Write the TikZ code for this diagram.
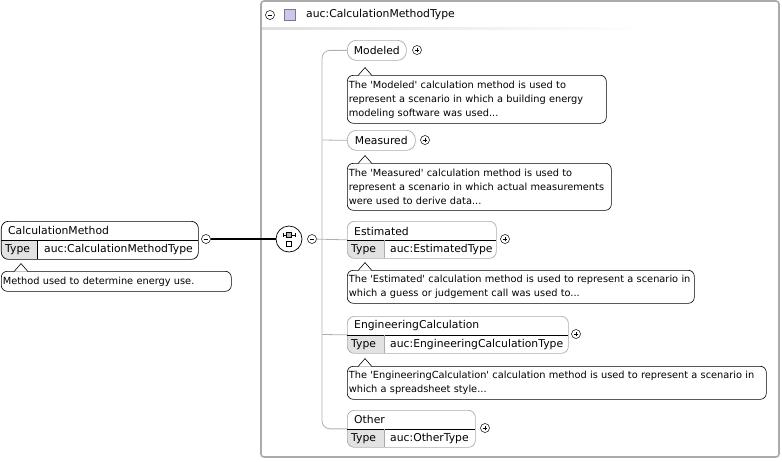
\documentclass[tikz,border=0pt]{standalone}
\usepackage{fontspec}
\setmainfont{DejaVu Sans}[Ligatures=TeXOff]
\usetikzlibrary{positioning}

\definecolor{boxgray}{HTML}{ABABAB}
\definecolor{treegray}{HTML}{AFAFAF}
\definecolor{typefill}{HTML}{E2E2E2}
\definecolor{lavender}{HTML}{CFC6EC}

\tikzset{
  minus/.style={circle, draw, fill=white, minimum size=9pt, inner sep=0pt, line width=0.5pt,
    path picture={\draw[line width=0.6pt] ([xshift=-2.3pt]path picture bounding box.center) -- ([xshift=2.3pt]path picture bounding box.center);}},
  plus/.style={minus,
    path picture={\draw[line width=0.6pt] ([xshift=-2.3pt]path picture bounding box.center) -- ([xshift=2.3pt]path picture bounding box.center)
      ([yshift=-2.3pt]path picture bounding box.center) -- ([yshift=2.3pt]path picture bounding box.center);}},
  tip/.style={draw, fill=white, line width=0.6pt}
}

\begin{document}
\begin{tikzpicture}[x=1pt,y=-1pt,
    elem/.style={draw=boxgray, rounded corners=7pt, line width=0.7pt, anchor=north west, inner sep=0pt},
    simple/.style={elem, rounded corners=9pt, minimum height=20pt, font=\fontsize{10.8}{12}\selectfont},
    doc/.style={draw, rounded corners=6pt, line width=0.6pt, anchor=north west, align=left,
      inner xsep=1.5pt, inner ysep=2pt, font=\fontsize{9.8}{14}\selectfont},
    tree/.style={draw=treegray, line width=0.8pt},
    label/.style={anchor=west, inner sep=0pt, font=\fontsize{10.8}{12}\selectfont}]
  \useasboundingbox (0,0) rectangle (782,461);

  % complex type frame
  \draw[boxgray, line width=1.6pt, rounded corners=3pt] (261,1) rectangle (779,457);
  \node[minus] (hdm) at (270,15) {};
  \node[draw=lavender!60!black, fill=lavender, minimum size=11pt, inner sep=0pt, line width=0.4pt] (hsq) at (290,15) {};
  \node[label] (htitle) at (306,15) {auc:CalculationMethodType};
  \shade[left color=gray!25, right color=white] (262,27) rectangle (650,29);

  % CalculationMethod
  \begin{scope}
    \clip[rounded corners=7pt] (1,221) rectangle (198,259);
    \fill[typefill] (1,240) rectangle (37,259);
  \end{scope}
  \node[elem, draw=black, minimum width=197pt, minimum height=38pt] (cm) at (1,221) {};
  \draw[line width=0.6pt] (1,240) -- (198,240) (37,240) -- (37,259);
  \node[label] (cmname) at (8,230) {CalculationMethod};
  \node[label] (cmtype) at (5,249.5) {Type};
  \node[label] (cmval) at (44,249.5) {auc:CalculationMethodType};
  \node[minus] (cmm) at (206,239) {};
  \node[doc, text width=227pt, minimum height=20pt] (cmdoc) at (1,271) {Method used to determine energy use.};
  \draw[tip] ([xshift=13pt,yshift=-0.6pt]cmdoc.north west) -- ++(7,-8) -- ++(7,8);

  % sequence
  \node[circle, draw, fill=white, minimum size=26pt, inner sep=0pt, line width=0.7pt] (seq) at (289,239) {};
  \draw[line width=0.6pt] (283,235) -- (295,235) (283,233) -- (283,237) (295,233) -- (295,237);
  \draw[fill=gray!60, line width=0.5pt] (286.5,232.5) rectangle (291.5,237.5);
  \draw[fill=white, line width=0.5pt] (286.5,241.5) rectangle (291.5,246.5);
  \node[minus] (seqm) at (312,239) {};
  \draw[line width=1.8pt] (cmm) -- (seq);

  % Modeled
  \node[simple, minimum width=59pt] (mod) at (347,40) {Modeled};
  \node[plus] (modp) at (417,50) {};
  \node[doc, text width=256pt, minimum height=48pt] (moddoc) at (347,75) {The 'Modeled' calculation method is used to\\represent a scenario in which a building energy\\modeling software was used...};
  \draw[tip] ([xshift=11pt,yshift=-0.6pt]moddoc.north west) -- ++(7,-8) -- ++(7,8);

  % Measured
  \node[simple, minimum width=68pt] (meas) at (347,130) {Measured};
  \node[plus] (measp) at (425,140) {};
  \node[doc, text width=261pt, minimum height=47pt] (measdoc) at (347,163) {The 'Measured' calculation method is used to\\represent a scenario in which actual measurements\\were used to derive data...};
  \draw[tip] ([xshift=11pt,yshift=-0.6pt]measdoc.north west) -- ++(7,-8) -- ++(7,8);

  % Estimated
  \begin{scope}
    \clip[rounded corners=7pt] (347,221) rectangle (496,258);
    \fill[typefill] (347,240) rectangle (384,258);
  \end{scope}
  \node[elem, minimum width=149pt, minimum height=37pt] (est) at (347,221) {};
  \draw[line width=0.6pt] (347,240) -- (496,240);
  \draw[boxgray, line width=0.6pt] (384,240) -- (384,258);
  \node[label] (estname) at (354,231) {Estimated};
  \node[label] (esttype) at (351,249.5) {Type};
  \node[label] (estval) at (390,249.5) {auc:EstimatedType};
  \node[plus] (estp) at (505,239) {};
  \node[doc, text width=344pt, minimum height=33pt] (estdoc) at (347,270) {The 'Estimated' calculation method is used to represent a scenario in\\which a guess or judgement call was used to...};
  \draw[tip] ([xshift=11pt,yshift=-0.6pt]estdoc.north west) -- ++(7,-8) -- ++(7,8);

  % EngineeringCalculation
  \begin{scope}
    \clip[rounded corners=7pt] (347,316) rectangle (568,353);
    \fill[typefill] (347,335) rectangle (384,353);
  \end{scope}
  \node[elem, minimum width=221pt, minimum height=37pt] (eng) at (347,316) {};
  \draw[line width=0.6pt] (347,335) -- (568,335);
  \draw[boxgray, line width=0.6pt] (384,335) -- (384,353);
  \node[label] (engname) at (354,325.5) {EngineeringCalculation};
  \node[label] (engtype) at (351,344.5) {Type};
  \node[label] (engval) at (390,344.5) {auc:EngineeringCalculationType};
  \node[plus] (engp) at (576,334) {};
  \node[doc, text width=416pt, minimum height=33pt] (engdoc) at (347,366) {The 'EngineeringCalculation' calculation method is used to represent a scenario in\\which a spreadsheet style...};
  \draw[tip] ([xshift=11pt,yshift=-0.6pt]engdoc.north west) -- ++(7,-8) -- ++(7,8);

  % Other
  \begin{scope}
    \clip[rounded corners=7pt] (347,410) rectangle (475,447);
    \fill[typefill] (347,429) rectangle (384,447);
  \end{scope}
  \node[elem, minimum width=128pt, minimum height=37pt] (oth) at (347,410) {};
  \draw[line width=0.6pt] (347,429) -- (475,429);
  \draw[boxgray, line width=0.6pt] (384,429) -- (384,447);
  \node[label] (othname) at (354,419.5) {Other};
  \node[label] (othtype) at (351,438.5) {Type};
  \node[label] (othval) at (390,438.5) {auc:OtherType};
  \node[plus] (othp) at (485,428) {};

  % tree lines
  \path[tree, rounded corners=8pt] (mod.west) -| (322,239) |- (oth.west);
  \path[tree] (seqm) -- (est.west)
    (322,140) -- (meas.west)
    (322,334.5) -- (eng.west);
\end{tikzpicture}
\end{document}
